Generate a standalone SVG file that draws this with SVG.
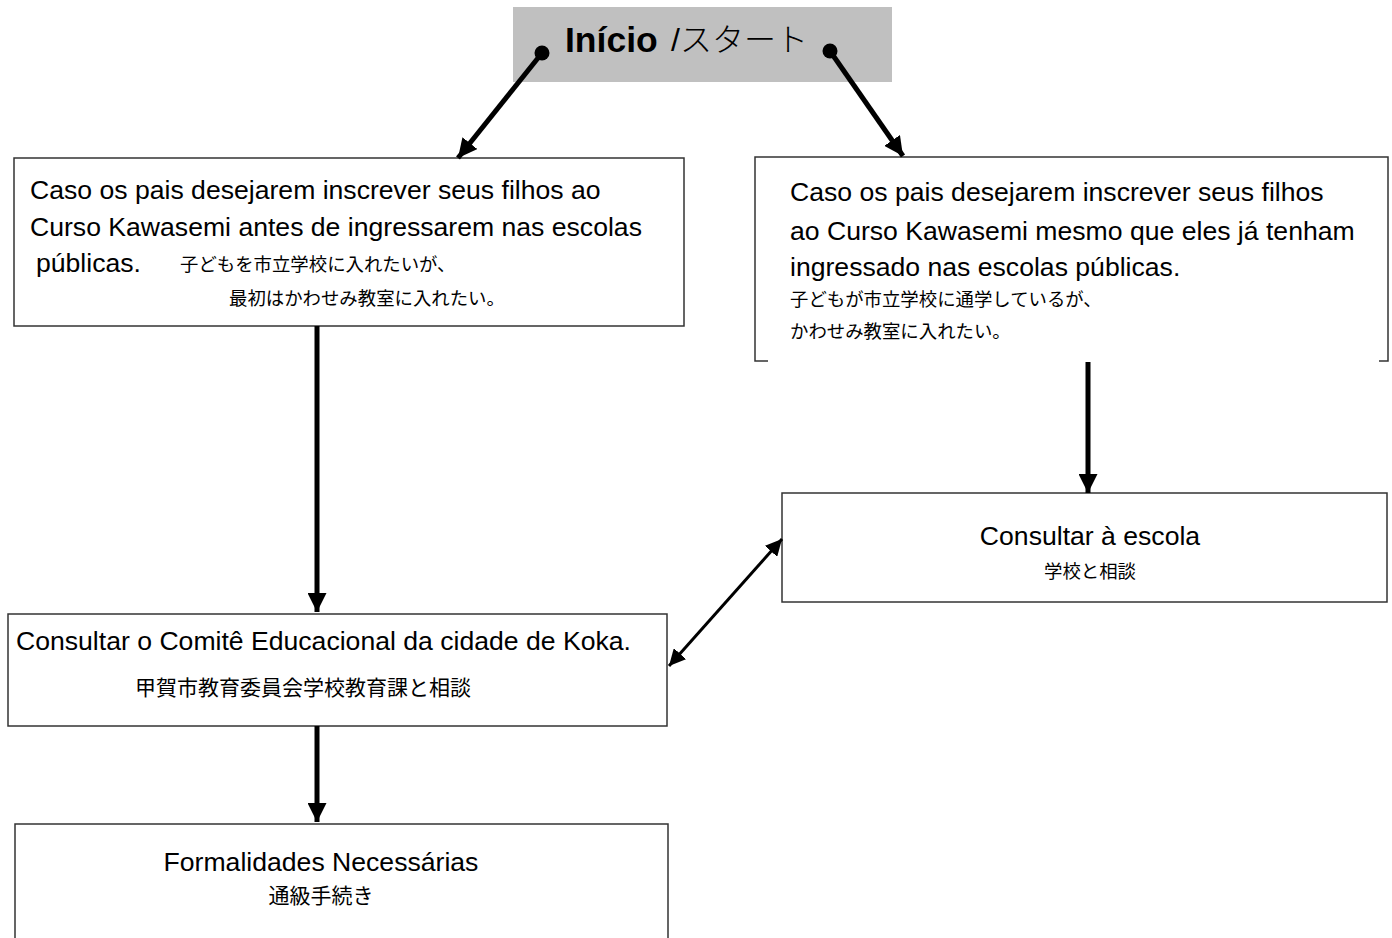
<svg xmlns="http://www.w3.org/2000/svg" width="1392" height="938" viewBox="0 0 1392 938">
  <style>
    .box { fill: #ffffff; stroke: #333333; stroke-width: 1.5; }
    .edge { fill: none; stroke: #333333; stroke-width: 1.5; }
    .t { font-family: "Liberation Sans", Arial, "Noto Sans CJK JP", sans-serif; font-size: 26.6px; fill: #000000; }
    .j { font-family: "Noto Sans CJK JP", "Liberation Sans", sans-serif; font-size: 18.4px; fill: #000000; }
    .jm { font-family: "Noto Sans CJK JP", "Liberation Sans", sans-serif; font-size: 21px; fill: #000000; }
    .c { text-anchor: middle; }
    .thick { fill: none; stroke: #000000; stroke-width: 5; }
    .thin { fill: none; stroke: #000000; stroke-width: 3; }
  </style>
  <defs>
    <marker id="ah" viewBox="0 0 10 10" refX="10" refY="5" markerWidth="3.8" markerHeight="3.8" markerUnits="strokeWidth" orient="auto">
      <path d="M0,0 L10,5 L0,10 z" fill="#000000"/>
    </marker>
    <marker id="ah2" viewBox="0 0 10 10" refX="10" refY="5" markerWidth="5.5" markerHeight="5.5" markerUnits="strokeWidth" orient="auto-start-reverse">
      <path d="M0,0 L10,5 L0,10 z" fill="#000000"/>
    </marker>
  </defs>

  <g id="start">
    <rect x="513" y="7" width="379" height="75" fill="#c0c0c0"/>
    <text x="565" y="52" font-family="Liberation Sans, Arial, sans-serif" font-size="35.5px" font-weight="bold">Início</text>
    <text x="671" y="51" font-family="Liberation Sans, 'Noto Sans CJK JP', sans-serif" font-size="32px">/<tspan font-family="'Noto Sans CJK JP', sans-serif" font-weight="300">スタート</tspan></text>
  </g>

  <g id="node-before">
    <rect class="box" x="14" y="158" width="670" height="168"/>
    <text class="t" x="30" y="199">Caso os pais desejarem inscrever seus filhos ao</text>
    <text class="t" x="30" y="236">Curso Kawasemi antes de ingressarem nas escolas</text>
    <text class="t" x="36" y="272">públicas.</text>
    <text class="j" x="180" y="271">子どもを市立学校に入れたいが、</text>
    <text class="j" x="229" y="305">最初はかわせみ教室に入れたい。</text>
  </g>

  <g id="node-already">
    <path class="edge" d="M768,361 L755,361 L755,157 L1388,157 L1388,361 L1379,361"/>
    <text class="t" x="790" y="201">Caso os pais desejarem inscrever seus filhos</text>
    <text class="t" x="790" y="240">ao Curso Kawasemi mesmo que eles já tenham</text>
    <text class="t" x="790" y="276">ingressado nas escolas públicas.</text>
    <text class="j" x="790" y="306">子どもが市立学校に通学しているが、</text>
    <text class="j" x="790" y="338">かわせみ教室に入れたい。</text>
  </g>

  <g id="node-school">
    <rect class="box" x="782" y="493" width="605" height="109"/>
    <text class="t c" x="1090" y="545">Consultar à escola</text>
    <text class="j c" x="1090" y="578">学校と相談</text>
  </g>

  <g id="node-committee">
    <rect class="box" x="8" y="614" width="659" height="112"/>
    <text class="t" x="16" y="650">Consultar o Comitê Educacional da cidade de Koka.</text>
    <text class="jm c" x="303" y="695">甲賀市教育委員会学校教育課と相談</text>
  </g>

  <g id="node-formalities">
    <path class="edge" d="M15,940 L15,824 L668,824 L668,940"/>
    <text class="t c" x="321" y="871">Formalidades Necessárias</text>
    <text class="jm c" x="321" y="903">通級手続き</text>
  </g>

  <g id="connectors">
    <circle cx="542" cy="53" r="7.5" fill="#000000"/>
    <circle cx="830" cy="51" r="7.5" fill="#000000"/>
    <line class="thick" x1="542" y1="53" x2="458" y2="158" marker-end="url(#ah)"/>
    <line class="thick" x1="830" y1="51" x2="903" y2="156" marker-end="url(#ah)"/>
    <line class="thick" x1="317" y1="326" x2="317" y2="612" marker-end="url(#ah)"/>
    <line class="thick" x1="1088" y1="362" x2="1088" y2="493" marker-end="url(#ah)"/>
    <line class="thick" x1="317" y1="726" x2="317" y2="822" marker-end="url(#ah)"/>
    <line class="thin" x1="669" y1="666" x2="782" y2="539" marker-start="url(#ah2)" marker-end="url(#ah2)"/>
  </g>
</svg>
